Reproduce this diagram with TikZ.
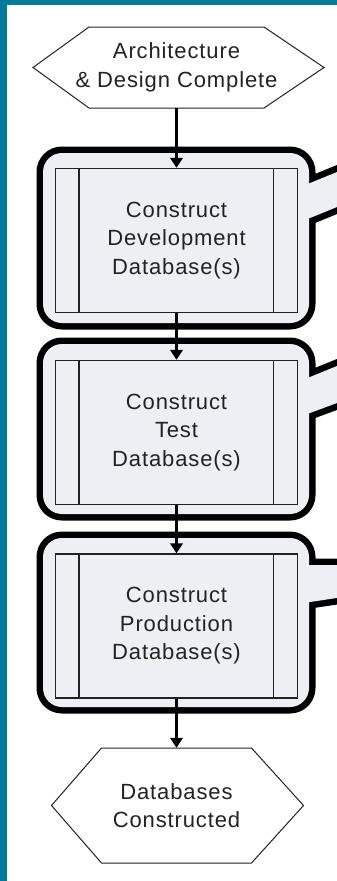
\documentclass[tikz,border=0pt]{standalone}
\usepackage{fontspec}
\setmainfont{Liberation Sans}[LetterSpace=4]
\usetikzlibrary{arrows.meta,calc}
\definecolor{frameteal}{RGB}{0,122,153}
\definecolor{boxfill}{RGB}{238,239,244}
\definecolor{ink}{RGB}{34,34,34}

\begin{document}
\begin{tikzpicture}[x=1pt,y=-1pt,
  labeltext/.style={font=\fontsize{22}{28.5}\selectfont, text=ink, align=center},
  event/.style={labeltext, inner sep=0pt},
  subproc/.style={labeltext, draw=ink, line width=1.4pt, fill=boxfill,
    minimum width=242pt, minimum height=144pt, inner sep=0pt},
  sidebar/.style={draw=ink, line width=1.4pt},
  hexline/.style={draw=ink, line width=1pt, line join=miter},
  flow/.style={draw=black, line width=2.2pt, -{Triangle[length=10pt,width=12.5pt]}},
  shellstroke/.style={draw=black, line width=13pt, line join=round},
  shellfill/.style={fill=boxfill},
]
\useasboundingbox (0,0) rectangle (337,881);
% page background and frame
\fill[white] (0,0) rectangle (337,881);
\fill[frameteal] (0,0) rectangle (7,881);
\fill[frameteal] (0,0) rectangle (337,5);

% rounded shells with callout tails (outline = outer half of a doubled stroke)
\begin{scope}
\clip (0,0) rectangle (337,881);
% shell 1
\path[shellstroke, rounded corners=19pt] (43,153) rectangle (309,323);
\path[shellstroke] (290,191.2) -- (350,166.7) -- (350,201.7) -- (290,226.2) -- cycle;
\path[shellfill, rounded corners=19pt] (43,153) rectangle (309,323);
\path[shellfill] (290,191.2) -- (350,166.7) -- (350,201.7) -- (290,226.2) -- cycle;
% shell 2
\path[shellstroke, rounded corners=19pt] (43,344) rectangle (309,514);
\path[shellstroke] (290,385.1) -- (350,360.7) -- (350,398.2) -- (290,420.4) -- cycle;
\path[shellfill, rounded corners=19pt] (43,344) rectangle (309,514);
\path[shellfill] (290,385.1) -- (350,360.7) -- (350,398.2) -- (290,420.4) -- cycle;
% shell 3
\path[shellstroke, rounded corners=19pt] (43,538) rectangle (309,707);
\path[shellstroke] (290,565) -- (350,565) -- (350,596) -- (290,605) -- cycle;
\path[shellfill, rounded corners=19pt] (43,538) rectangle (309,707);
\path[shellfill] (290,565) -- (350,565) -- (350,596) -- (290,605) -- cycle;
\end{scope}

% start event
\node[event, minimum height=81pt] (start) at (176.5,67.5)
  {Architecture\\\& Design Complete};
\draw[hexline] ($(start.center)+(-87.5,-40.5)$) -- ($(start.center)+(87.5,-40.5)$)
  -- ($(start.center)+(147.5,0)$) -- ($(start.center)+(87.5,40.5)$)
  -- ($(start.center)+(-87.5,40.5)$) -- ($(start.center)+(-143.5,0)$) -- cycle;

% sub-processes
\node[subproc] (dev) at (176.5,240.5) {Construct\\Development\\Database(s)};
\node[subproc] (test) at (176.5,432.5) {Construct\\Test\\Database(s)};
\node[subproc] (prod) at (176.5,626) {Construct\\Production\\Database(s)};
\foreach \n in {dev,test,prod}{
  \draw[sidebar] ([xshift=24pt]\n.north west) -- ([xshift=24pt]\n.south west);
  \draw[sidebar] ([xshift=-25pt]\n.north east) -- ([xshift=-25pt]\n.south east);
}

% end event
\node[event, minimum height=115pt] (done) at (176.5,805.5)
  {Databases\\Constructed};
\draw[hexline] ($(done.center)+(-75,-57.5)$) -- ($(done.center)+(75,-57.5)$)
  -- ($(done.center)+(127,0)$) -- ($(done.center)+(75,57.5)$)
  -- ($(done.center)+(-75,57.5)$) -- ($(done.center)+(-125,0)$) -- cycle;

% flow
\draw[flow] (start.south) -- (dev.north);
\draw[flow] (dev.south) -- (test.north);
\draw[flow] (test.south) -- (prod.north);
\draw[flow] (prod.south) -- (done.north);
\end{tikzpicture}
\end{document}
